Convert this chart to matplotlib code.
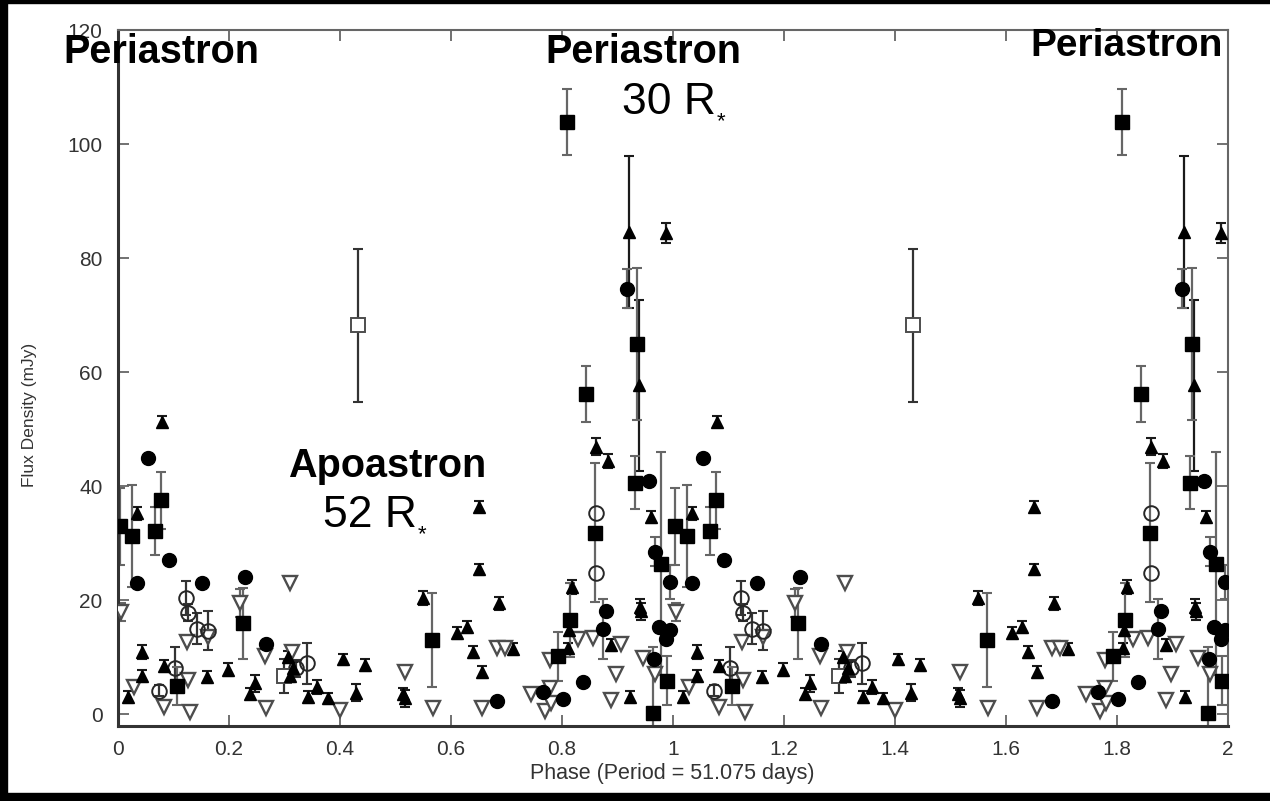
import matplotlib
matplotlib.use("Agg")
import matplotlib.pyplot as plt
import numpy as np
from matplotlib.patches import Rectangle

plt.rcParams['font.family'] = ['Liberation Sans', 'DejaVu Sans']

# filled squares: phase, flux (mJy), error
sq_phase = [0.004, 0.026, 0.067, 0.078, 0.106, 0.225, 0.565, 0.793, 0.809, 0.814,
            0.843, 0.859, 0.932, 0.935, 0.964, 0.978, 0.990]
sq_flux = [32.9, 31.2, 32.1, 37.5, 4.9, 15.9, 13.0, 10.1, 103.8, 16.5,
           56.2, 31.8, 40.6, 64.9, 0.2, 26.4, 5.8]
sq_err = [6.7, 8.9, 4.2, 5.0, 3.3, 6.2, 8.2, 4.3, 5.8, 6.5,
          4.9, 12.2, 4.6, 13.3, 11.5, 19.6, 4.3]

# filled circles
ci_phase = [0.034, 0.0535, 0.091, 0.151, 0.228, 0.267, 0.682, 0.765, 0.802, 0.838,
            0.874, 0.880, 0.917, 0.956, 0.966, 0.968, 0.974, 0.987, 0.995, 0.995]
ci_flux = [22.9, 45.0, 27.0, 22.9, 24.0, 12.2, 2.2, 3.9, 2.6, 5.7,
           14.9, 18.1, 74.6, 40.9, 9.6, 28.5, 15.3, 13.1, 14.7, 23.2]
ci_err = [0, 0, 0, 0, 0, 0, 0, 0, 0, 0,
          5.3, 0, 3.4, 0, 0, 2.6, 0, 0, 0, 3.0]

# filled triangles
tr_phase = [0.018, 0.034, 0.043, 0.044, 0.079, 0.082, 0.160, 0.198, 0.238, 0.246,
            0.306, 0.310, 0.316, 0.343, 0.358, 0.379, 0.405, 0.429, 0.445, 0.513,
            0.517, 0.549, 0.610, 0.628, 0.640, 0.650, 0.650, 0.655, 0.687, 0.711,
            0.811, 0.813, 0.8175, 0.862, 0.882, 0.888, 0.921, 0.9225, 0.939, 0.940,
            0.942, 0.961, 0.987]
tr_flux = [3.0, 35.2, 6.7, 10.9, 51.3, 8.4, 6.5, 7.8, 3.6, 5.4,
           10.0, 6.6, 8.1, 3.0, 4.8, 2.75, 9.6, 3.7, 8.6, 3.6,
           2.8, 20.3, 14.2, 15.3, 10.9, 36.4, 25.4, 7.4, 19.4, 11.4,
           11.5, 14.7, 22.3, 46.9, 44.4, 12.1, 84.6, 3.0, 57.7, 18.8,
           18.0, 34.6, 84.4]
tr_err = [1.0, 1.2, 1.0, 1.2, 1.0, 1.0, 1.0, 1.2, 1.0, 1.5,
          1.0, 1.0, 1.0, 1.0, 1.2, 1.0, 1.0, 1.5, 1.0, 1.0,
          1.5, 1.2, 1.0, 1.0, 1.0, 1.0, 1.0, 1.0, 1.2, 1.0,
          1.0, 1.0, 1.2, 1.5, 1.3, 1.0, 13.3, 1.0, 15.0, 1.3,
          1.5, 1.0, 1.7]

# open circles
oc_phase = [0.073, 0.103, 0.1225, 0.126, 0.142, 0.163, 0.320, 0.340, 0.862, 0.862]
oc_flux = [4.1, 8.0, 20.3, 17.8, 15.0, 14.6, 8.0, 8.9, 35.2, 24.7]
oc_err = [1.0, 3.8, 3.0, 1.5, 2.7, 3.4, 1.5, 3.6, 0, 0]

# open down triangles
ot_phase = [0.006, 0.028, 0.082, 0.124, 0.127, 0.130, 0.163, 0.220, 0.264, 0.267,
            0.310, 0.313, 0.400, 0.517, 0.568, 0.655, 0.682, 0.697, 0.745, 0.769,
            0.778, 0.781, 0.778, 0.829, 0.855, 0.889, 0.897, 0.907, 0.946, 0.968]
ot_flux = [17.9, 4.8, 1.2, 12.7, 6.0, 0.4, 13.5, 19.5, 10.1, 1.0,
           23.0, 10.9, 0.7, 7.4, 1.0, 1.0, 11.5, 11.5, 3.5, 0.6,
           4.5, 1.9, 9.5, 13.1, 13.4, 2.5, 7.0, 12.3, 9.9, 7.1]
ot_err = [1.5, 0, 0, 0, 0, 0, 0, 2.5, 0, 0,
          0, 0, 0, 0, 0, 0, 0, 0, 0, 0,
          0, 0, 0, 0, 0, 0, 0, 0, 0, 0]

# open squares
os_phase = [0.2985, 0.433]
os_flux = [6.7, 68.2]
os_err = [3.0, 13.4]

xticks = [0, 0.2, 0.4, 0.6, 0.8, 1.0, 1.2, 1.4, 1.6, 1.8, 2.0]
xtick_labels = ['0', '0.2', '0.4', '0.6', '0.8', '1', '1.2', '1.4', '1.6', '1.8', '2']
yticks = [0, 20, 40, 60, 80, 100, 120]

W, H = 1270, 801


def px(x, y):
    return x / W, 1 - y / H


fig = plt.figure(figsize=(12.7, 8.01), dpi=100)
ax = fig.add_axes([118 / W, 1 - 726 / H, (1228 - 118) / W, (726 - 30) / H])


def draw(phase, flux, err, ecolor='0.4', **style):
    phase = np.array(phase)
    flux = np.array(flux)
    err = np.array(err)
    m = err > 0
    # data folded over two cycles
    for shift in (0, 1):
        x = phase + shift
        ax.errorbar(x[m], flux[m], yerr=err[m], fmt='none', ecolor=ecolor,
                    elinewidth=1.6, capsize=3.8, capthick=1.5, zorder=2)
        ax.plot(x, flux, ls='none', zorder=3, **style)


draw(ot_phase, ot_flux, ot_err, marker='v', ms=10, mfc='white', mec='0.3', mew=1.7)
draw(oc_phase, oc_flux, oc_err, ecolor='0.2', marker='o', ms=10.5, mfc='none', mec='0.15', mew=1.4)
draw(os_phase, os_flux, os_err, ecolor='0.2', marker='s', ms=10.5, mfc='white', mec='0.3', mew=1.4)
draw(tr_phase, tr_flux, tr_err, ecolor='0.1', marker='^', ms=9, mfc='k', mec='k')
draw(ci_phase, ci_flux, ci_err, marker='o', ms=10, mfc='k', mec='k')
draw(sq_phase, sq_flux, sq_err, marker='s', ms=10.5, mfc='k', mec='k')

ax.set_xlim(0, 2)
ax.set_ylim(-2.1, 120)
ax.set_xticks(xticks)
ax.set_xticklabels(xtick_labels)
ax.set_yticks(yticks)
ax.tick_params(direction='in', length=8, width=1.2, color='0.35', top=True, right=True,
               labelsize=15, labelcolor='0.2')
ax.tick_params(axis='x', pad=10)
ax.tick_params(axis='y', pad=11)
for side in ['left', 'bottom']:
    ax.spines[side].set_linewidth(2.2)
    ax.spines[side].set_color('0.2')
for side in ['top', 'right']:
    ax.spines[side].set_linewidth(1.5)
    ax.spines[side].set_color('0.4')

fig.text(*px(30, 415), 'Flux Density (mJy)', rotation=90, ha='center', va='center',
         fontsize=12.5, color='0.2')
fig.text(*px(672, 773), 'Phase (Period = 51.075 days)', ha='center', va='center',
         fontsize=15.5, color='0.2')

# annotations
fig.text(*px(63, 63), 'Periastron', ha='left', va='baseline', fontsize=28.5, weight='bold')
fig.text(*px(545, 63), 'Periastron', ha='left', va='baseline', fontsize=28.5, weight='bold')
fig.text(*px(1030, 56), 'Periastron', ha='left', va='baseline', fontsize=28, weight='bold')
fig.text(*px(622, 114), '30 R', ha='left', va='baseline', fontsize=32)
fig.text(*px(717, 127), '*', ha='left', va='baseline', fontsize=16)
fig.text(*px(288, 477), 'Apoastron', ha='left', va='baseline', fontsize=28.5, weight='bold')
fig.text(*px(323, 527), '52 R', ha='left', va='baseline', fontsize=32)
fig.text(*px(418, 540), '*', ha='left', va='baseline', fontsize=16)

# black scan border
fig.patches.append(Rectangle((0, 0), 7 / W, 1, transform=fig.transFigure, color='k', zorder=0))
fig.patches.append(Rectangle((0, 1 - 3 / H), 1, 3 / H, transform=fig.transFigure, color='k', zorder=0))
fig.patches.append(Rectangle((0, 0), 1, 8 / H, transform=fig.transFigure, color='k', zorder=0))

fig.savefig('out.png', dpi=100)
